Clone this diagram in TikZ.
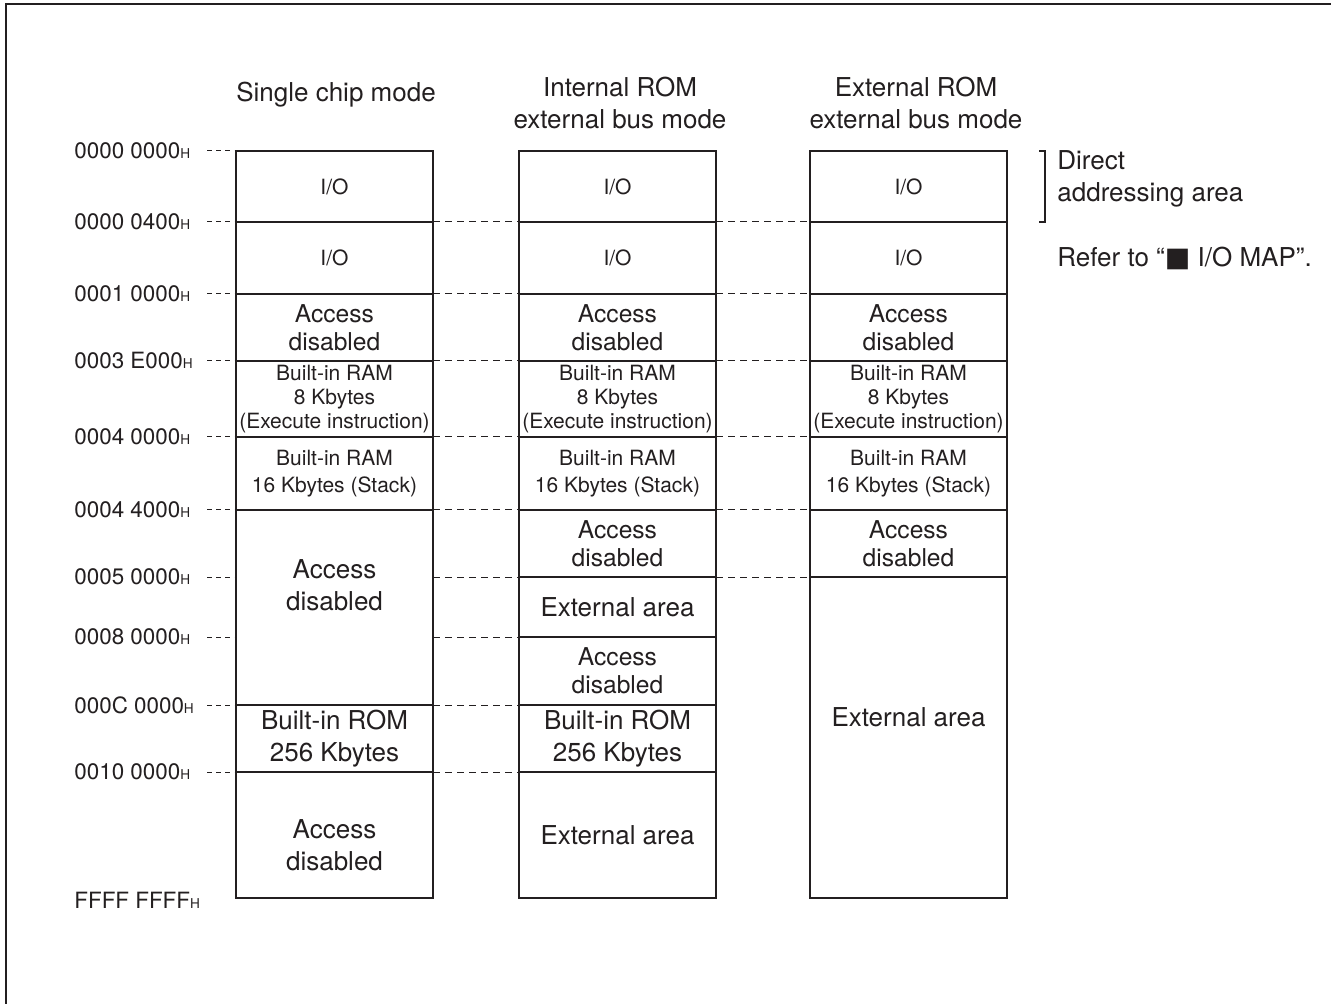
\documentclass[tikz,border=0pt]{standalone}
\usepackage{fontspec}
\setmainfont{TeX Gyre Heros}
\newfontfamily\symfont{DejaVu Sans}
\usetikzlibrary{positioning}
\definecolor{ink}{HTML}{231F20}

\tikzset{
    cell/.style={
           rectangle,
           draw=ink, line width=0.7pt,
           minimum width=98.5pt,
           inner sep=0pt, outer sep=0pt,
           text=ink, align=center,
           font=\fontsize{10.5}{12}\selectfont,
           },
    midtext/.style={font=\fontsize{12.3}{14}\selectfont},
    bigtext/.style={text=ink, align=center, font=\fontsize{13}{16}\selectfont},
    colframe/.style={draw=ink, line width=1.3pt},
    dashline/.style={draw=ink, line width=0.5pt, dash pattern=on 3.5pt off 2.5pt},
    addrdash/.style={draw=ink, line width=0.5pt, dash pattern=on 2.4pt off 2.2pt},
    addr/.style={anchor=west, inner sep=0pt, text=ink, font=\fontsize{11.2}{13}\selectfont},
    note/.style={anchor=west, inner sep=0pt, text=ink, align=left, font=\fontsize{13}{16}\selectfont},
}
\newcommand{\hexh}{{\fontsize{6.8}{8}\selectfont H}}

\begin{document}
\begin{tikzpicture}[x=0.5pt, y=-0.5pt]
\useasboundingbox (0,0) rectangle (1331,1004);

       % page frame
       \draw[ink, line width=1pt] (6,1004) -- (6,4) -- (1331,4);

       % column titles
       \node[bigtext] (tSingle) at (336,95) {Single chip mode};
       \node[bigtext] (tIntern) at (620,103) {Internal ROM\\external bus mode};
       \node[bigtext] (tExtern) at (916,103) {External ROM\\external bus mode};

       % single chip mode
       \node[cell, minimum height=35.5pt, anchor=north west] (S1) at (236,151) {I/O};
       \node[cell, minimum height=36pt, below=0pt of S1] (S2) {I/O};
       \node[cell, midtext, minimum height=33.5pt, below=0pt of S2] (S3) {Access\\disabled};
       \node[cell, minimum height=38pt, below=0pt of S3] (S4) {Built-in RAM\\8 Kbytes\\(Execute instruction)};
       \node[cell, minimum height=36.5pt, below=0pt of S4, font=\fontsize{10.5}{13.5}\selectfont] (S5) {Built-in RAM\\16 Kbytes (Stack)};
       \node[cell, minimum height=97.5pt, below=0pt of S5] (S6) {};
       \node[cell, bigtext, minimum height=33.5pt, below=0pt of S6] (S7) {Built-in ROM\\256 Kbytes};
       \node[cell, minimum height=63pt, below=0pt of S7] (S8) {};
       \node[bigtext] (S6text) at ([yshift=11pt]S6.center) {Access\\disabled};
       \node[bigtext] (S8text) at ([yshift=-5pt]S8.center) {Access\\disabled};
       \draw[colframe] (S1.north west) rectangle (S8.south east);

       % internal ROM external bus mode
       \node[cell, minimum height=35.5pt, anchor=north west] (I1) at (519,151) {I/O};
       \node[cell, minimum height=36pt, below=0pt of I1] (I2) {I/O};
       \node[cell, midtext, minimum height=33.5pt, below=0pt of I2] (I3) {\rule{0pt}{6pt}Access\\disabled};
       \node[cell, minimum height=38pt, below=0pt of I3] (I4) {Built-in RAM\\8 Kbytes\\(Execute instruction)};
       \node[cell, minimum height=36.5pt, below=0pt of I4, font=\fontsize{10.5}{13.5}\selectfont] (I5) {Built-in RAM\\16 Kbytes (Stack)};
       \node[cell, midtext, minimum height=33.5pt, below=0pt of I5] (I6) {Access\\disabled};
       \node[cell, bigtext, minimum height=30pt, below=0pt of I6] (I7) {External area};
       \node[cell, midtext, minimum height=34pt, below=0pt of I7] (I8) {Access\\disabled};
       \node[cell, bigtext, minimum height=33.5pt, below=0pt of I8] (I9) {Built-in ROM\\256 Kbytes};
       \node[cell, bigtext, minimum height=63pt, below=0pt of I9] (I10) {External area};
       \draw[colframe] (I1.north west) rectangle (I10.south east);

       % external ROM external bus mode
       \node[cell, minimum height=35.5pt, anchor=north west] (E1) at (810,151) {I/O};
       \node[cell, minimum height=36pt, below=0pt of E1] (E2) {I/O};
       \node[cell, midtext, minimum height=33.5pt, below=0pt of E2] (E3) {Access\\disabled};
       \node[cell, minimum height=38pt, below=0pt of E3] (E4) {Built-in RAM\\8 Kbytes\\(Execute instruction)};
       \node[cell, minimum height=36.5pt, below=0pt of E4, font=\fontsize{10.5}{13.5}\selectfont] (E5) {Built-in RAM\\16 Kbytes (Stack)};
       \node[cell, midtext, minimum height=33.5pt, below=0pt of E5] (E6) {Access\\disabled};
       \node[cell, minimum height=160.5pt, below=0pt of E6] (E7) {};
       \node[bigtext] (E7text) at ([yshift=10pt]E7.center) {External area};
       \draw[colframe] (E1.north west) rectangle (E7.south east);

       % addresses
       \coordinate (tick) at (207,0);
       \node[addr] (A0) at (74,151) {0000 0000\hexh};
       \node[addr] (A1) at (74,222) {0000 0400\hexh};
       \node[addr] (A2) at (74,294) {0001 0000\hexh};
       \node[addr] (A3) at (74,361) {0003 E000\hexh};
       \node[addr] (A4) at (74,437) {0004 0000\hexh};
       \node[addr] (A5) at (74,510) {0004 4000\hexh};
       \node[addr] (A6) at (74,577) {0005 0000\hexh};
       \node[addr] (A7) at (74,637) {0008 0000\hexh};
       \node[addr] (A8) at (74,705) {000C 0000\hexh};
       \node[addr] (A9) at (74,772) {0010 0000\hexh};
       \node[addr] (A10) at (74,900) {FFFF FFFF\hexh};

       \draw[addrdash] (A0 -| tick) -- (A0 -| S1.west);
       \draw[addrdash] (A1 -| tick) -- (A1 -| S1.west);
       \draw[addrdash] (A2 -| tick) -- (A2 -| S1.west);
       \draw[addrdash] (A3 -| tick) -- (A3 -| S1.west);
       \draw[addrdash] (A4 -| tick) -- (A4 -| S1.west);
       \draw[addrdash] (A5 -| tick) -- (A5 -| S1.west);
       \draw[addrdash] (A6 -| tick) -- (A6 -| S1.west);
       \draw[addrdash] (A7 -| tick) -- (A7 -| S1.west);
       \draw[addrdash] (A8 -| tick) -- (A8 -| S1.west);
       \draw[addrdash] (A9 -| tick) -- (A9 -| S1.west);

       % boundaries between the maps
       \draw[dashline] (S2.north east) -- (I2.north west);
       \draw[dashline] (S3.north east) -- (I3.north west);
       \draw[dashline] (S4.north east) -- (I4.north west);
       \draw[dashline] (S5.north east) -- (I5.north west);
       \draw[dashline] (S6.north east) -- (I6.north west);
       \draw[dashline] (I7.north west -| S6.east) -- (I7.north west);
       \draw[dashline] (I8.north west -| S6.east) -- (I8.north west);
       \draw[dashline] (S7.north east) -- (I9.north west);
       \draw[dashline] (S8.north east) -- (I10.north west);

       \draw[dashline] (I2.north east) -- (E2.north west);
       \draw[dashline] (I3.north east) -- (E3.north west);
       \draw[dashline] (I4.north east) -- (E4.north west);
       \draw[dashline] (I5.north east) -- (E5.north west);
       \draw[dashline] (I6.north east) -- (E6.north west);
       \draw[dashline] (I7.north east) -- (E7.north west);

       % direct addressing area
       \draw[ink, line width=0.7pt] ([xshift=16pt]E1.north east) -| ([xshift=19pt]E1.south east) -- ([xshift=16pt]E1.south east);
       \node[note] (direct) at (1057,179) {Direct\\addressing area};
       \node[note] (refer) at (1057,258) {Refer to “{\symfont\fontsize{13.5}{16}\selectfont ■} I/O MAP”.};

\end{tikzpicture}
\end{document}
